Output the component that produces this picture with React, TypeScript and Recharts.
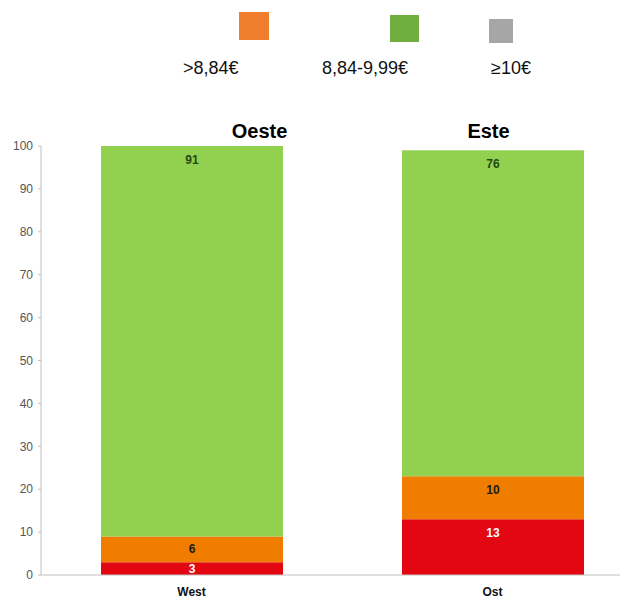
import React from 'react';
import { BarChart, Bar, XAxis, YAxis, LabelList } from 'recharts';

const categories = ['West', 'Ost'];
const headings = ['Oeste', 'Este'];
const redValues = [3, 13];
const orangeValues = [6, 10];
const greenValues = [91, 76];
const grayValues = [0, 0];
const yTicks = [0, 10, 20, 30, 40, 50, 60, 70, 80, 90, 100];

const legendLabels = ['>8,84€', '8,84-9,99€', '≥10€'];
const legendColors = ['#f07e2c', '#6fae3f', '#a6a6a6'];

const data = categories.map((c, i) => ({
  cat: c,
  heading: headings[i],
  red: redValues[i],
  orange: orangeValues[i],
  green: greenValues[i],
  gray: grayValues[i],
}));

const FONT = '"Liberation Sans", Arial, sans-serif';

const makeLabel = (fill: string) => (props: any) => {
  const { x, y, width, height, value } = props;
  if (!value) return null;
  const off = Math.min(8, Math.max(0, height / 2 - 6));
  return (
    <text
      x={x + width / 2}
      y={y + off + 10}
      textAnchor="middle"
      fontFamily={FONT}
      fontWeight="bold"
      fontSize={12}
      fill={fill}
    >
      {value}
    </text>
  );
};

// layout (styling only)
const squarePos = [
  { left: 239, top: 12, w: 30, h: 28 },
  { left: 390, top: 15, w: 29, h: 27 },
  { left: 489, top: 19, w: 24, h: 24 },
];
const labelPos = [183, 322, 491];
const headingDx = [68, -4];

const HeadingTick = (props: any) => {
  const { x, y, payload, index } = props;
  return (
    <text
      x={x + (headingDx[index] || 0)}
      y={y}
      textAnchor="middle"
      fontFamily={FONT}
      fontWeight="bold"
      fontSize={20}
      fill="#000"
    >
      {payload.value}
    </text>
  );
};

export default function App() {
  return (
    <div style={{ position: 'absolute', left: 0, top: 0, width: 620, height: 599, overflow: 'hidden', background: '#fff' }}>
      {legendLabels.map((l, i) => (
        <React.Fragment key={l}>
          <div
            style={{
              position: 'absolute',
              left: squarePos[i].left,
              top: squarePos[i].top,
              width: squarePos[i].w,
              height: squarePos[i].h,
              background: legendColors[i],
            }}
          />
          <div
            style={{
              position: 'absolute',
              left: labelPos[i],
              top: 58,
              fontFamily: FONT,
              fontSize: 18,
              color: '#111',
              whiteSpace: 'nowrap',
            }}
          >
            {l}
          </div>
        </React.Fragment>
      ))}
      <div style={{ position: 'absolute', left: 0, top: 0 }}>
        <BarChart
          width={650}
          height={599}
          data={data}
          margin={{ top: 116, right: 7, bottom: 0, left: 0 }}
          barSize={182}
        >
          <XAxis
            xAxisId="top"
            orientation="top"
            dataKey="heading"
            axisLine={false}
            tickLine={false}
            height={30}
            tick={<HeadingTick />}
          />
          <XAxis
            dataKey="cat"
            axisLine={{ stroke: '#c0c0c0' }}
            tickLine={false}
            height={24}
            tickMargin={6}
            tick={{ fontFamily: FONT, fontWeight: 'bold', fontSize: 12, fill: '#111' }}
          />
          <YAxis
            width={41}
            domain={[0, 100]}
            ticks={yTicks}
            interval={0}
            axisLine={{ stroke: '#c0c0c0' }}
            tickLine={{ stroke: '#c0c0c0' }}
            tickSize={3}
            tickMargin={5}
            tick={{ fontFamily: FONT, fontSize: 12, fill: '#555' }}
          />
          <Bar dataKey="red" stackId="s" fill="#e30613" isAnimationActive={false}>
            <LabelList dataKey="red" content={makeLabel('#ffffff')} />
          </Bar>
          <Bar dataKey="orange" stackId="s" fill="#f07d00" isAnimationActive={false}>
            <LabelList dataKey="orange" content={makeLabel('#1a1a1a')} />
          </Bar>
          <Bar dataKey="green" stackId="s" fill="#92d050" isAnimationActive={false}>
            <LabelList dataKey="green" content={makeLabel('#1f4a12')} />
          </Bar>
          <Bar dataKey="gray" stackId="s" fill="#a6a6a6" isAnimationActive={false} />
        </BarChart>
      </div>
    </div>
  );
}
